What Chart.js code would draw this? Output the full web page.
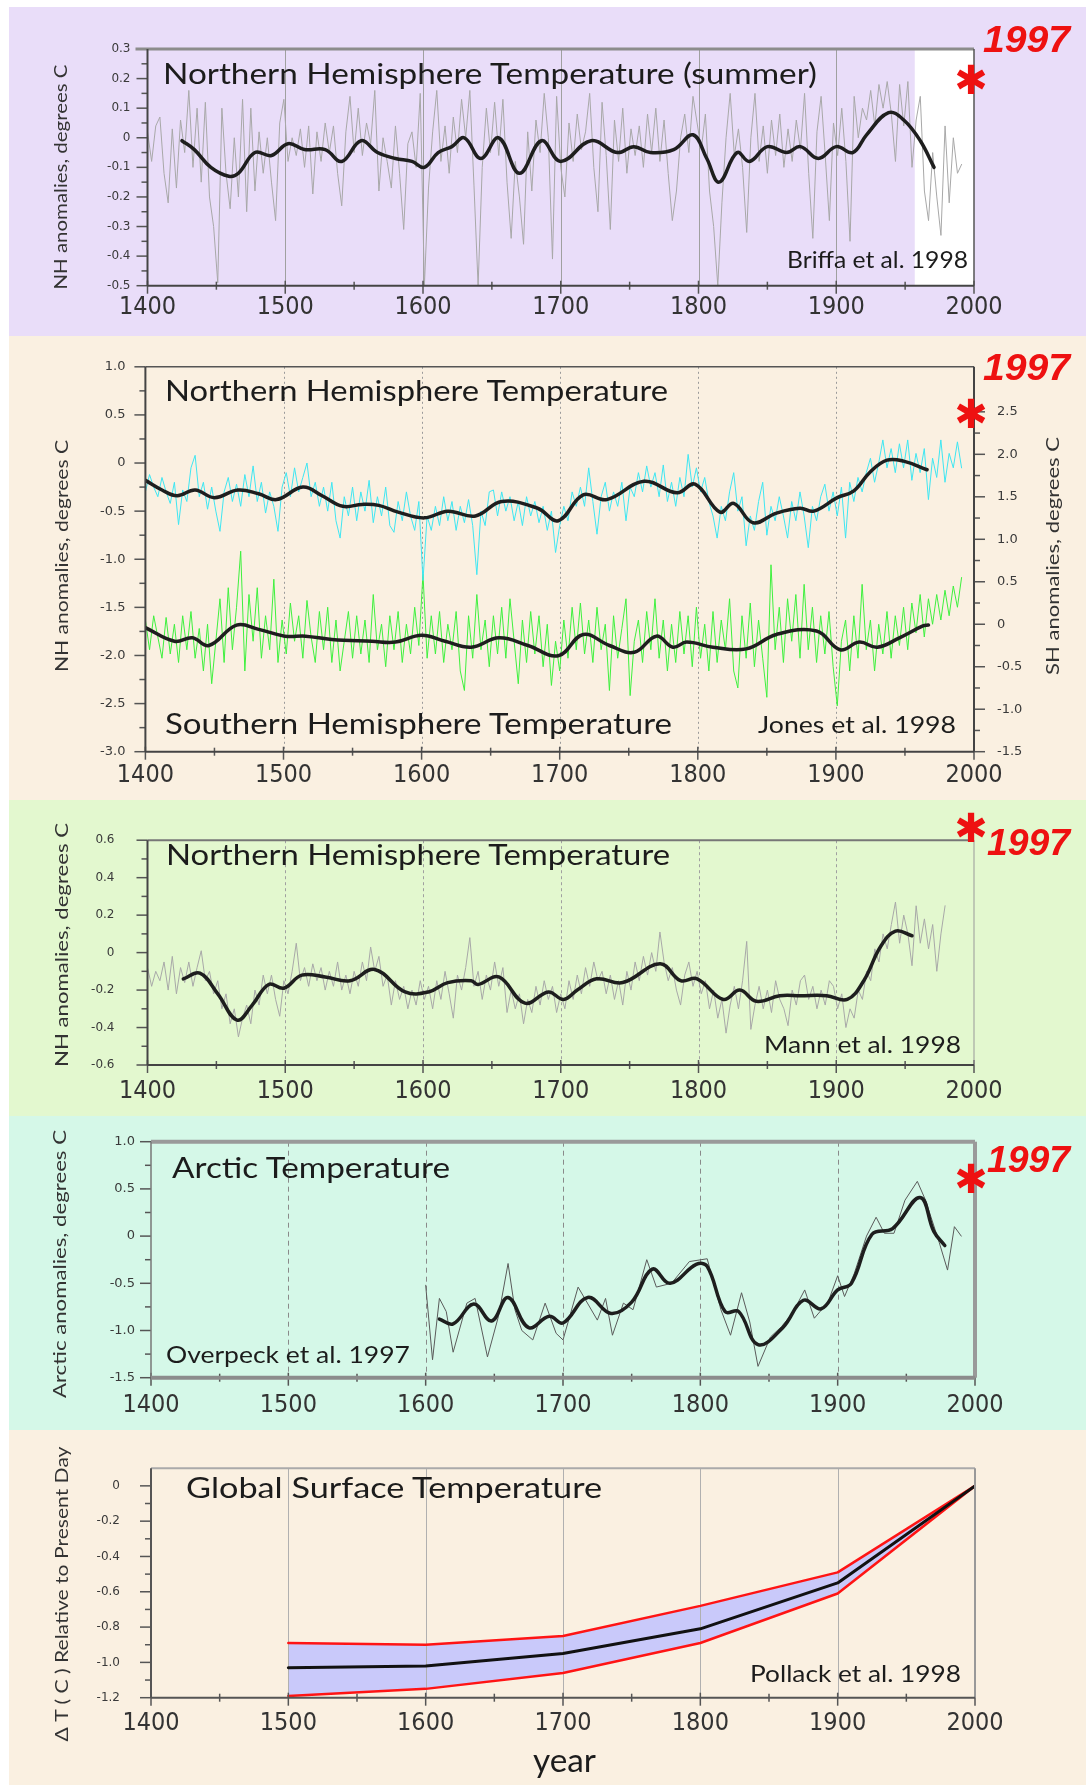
<!DOCTYPE html>
<html><head><meta charset="utf-8">
<script src="https://cdn.jsdelivr.net/npm/chart.js@4.4.1/dist/chart.umd.min.js"></script>
<style>
html,body{margin:0;padding:0;background:#fff;}
#page{position:relative;width:1086px;height:1785px;overflow:hidden;background:#fff;}
.panel{position:absolute;left:9px;width:1077px;}
.panel canvas{position:absolute;left:0;top:0;}
#ov{position:absolute;left:0;top:0;pointer-events:none;}
</style></head><body>
<div id="page">
 <div class="panel" style="top:7px;height:329px;background:#e9ddf9"><canvas id="c1" width="1077" height="329"></canvas></div>
 <div class="panel" style="top:336px;height:464px;background:#faf0e1"><canvas id="c2" width="1077" height="464"></canvas></div>
 <div class="panel" style="top:800px;height:316px;background:#e3f8cf"><canvas id="c3" width="1077" height="316"></canvas></div>
 <div class="panel" style="top:1116px;height:314px;background:#d5f8e8"><canvas id="c4" width="1077" height="314"></canvas></div>
 <div class="panel" style="top:1430px;height:355px;background:#faf0e1"><canvas id="c5" width="1077" height="355"></canvas></div>
 <svg id="ov" width="1086" height="1785" xmlns="http://www.w3.org/2000/svg">
  <g font-family="Lato, 'Open Sans', sans-serif" fill="#1c1c1c">
   <text x="163" y="84" font-size="29" textLength="654" lengthAdjust="spacingAndGlyphs">Northern Hemisphere Temperature (summer)</text>
   <text x="165" y="401" font-size="29" textLength="503" lengthAdjust="spacingAndGlyphs">Northern Hemisphere Temperature</text>
   <text x="165" y="734" font-size="29" textLength="507" lengthAdjust="spacingAndGlyphs">Southern Hemisphere Temperature</text>
   <text x="166" y="865" font-size="29" textLength="504" lengthAdjust="spacingAndGlyphs">Northern Hemisphere Temperature</text>
   <text x="172" y="1178" font-size="29" textLength="278" lengthAdjust="spacingAndGlyphs">Arctic Temperature</text>
   <text x="186" y="1498" font-size="29" textLength="416" lengthAdjust="spacingAndGlyphs">Global Surface Temperature</text>
   <text x="787" y="268" font-size="24" textLength="181" lengthAdjust="spacingAndGlyphs">Briffa et al. 1998</text>
   <text x="758" y="733" font-size="24" textLength="198" lengthAdjust="spacingAndGlyphs">Jones et al. 1998</text>
   <text x="764" y="1053" font-size="24" textLength="197" lengthAdjust="spacingAndGlyphs">Mann et al. 1998</text>
   <text x="166" y="1363" font-size="24" textLength="244" lengthAdjust="spacingAndGlyphs">Overpeck et al. 1997</text>
   <text x="750" y="1682" font-size="24" textLength="211" lengthAdjust="spacingAndGlyphs">Pollack et al. 1998</text>
   <text x="533" y="1772" font-size="33" textLength="63" lengthAdjust="spacingAndGlyphs">year</text>
  </g>
  <g font-family="Lato, 'Open Sans', sans-serif" fill="#333" font-size="18" text-anchor="middle" dominant-baseline="central">
   <text transform="translate(60,177) rotate(-90)" textLength="225" lengthAdjust="spacingAndGlyphs">NH anomalies, degrees C</text>
   <text transform="translate(61,556) rotate(-90)" textLength="232" lengthAdjust="spacingAndGlyphs">NH anomalies, degrees C</text>
   <text transform="translate(1052,556) rotate(-90)" textLength="238" lengthAdjust="spacingAndGlyphs">SH anomalies, degrees C</text>
   <text transform="translate(61,945) rotate(-90)" textLength="244" lengthAdjust="spacingAndGlyphs">NH anomalies, degrees C</text>
   <text transform="translate(59,1264) rotate(-90)" textLength="268" lengthAdjust="spacingAndGlyphs">Arctic anomalies, degrees C</text>
   <text transform="translate(61,1594) rotate(-90)" textLength="295" lengthAdjust="spacingAndGlyphs">Δ T ( C ) Relative to Present Day</text>
  </g>
  <g font-family="'Liberation Sans', Arial, sans-serif" font-weight="bold" font-style="italic" fill="#ee1111" font-size="37">
   <text x="983" y="52" textLength="87" lengthAdjust="spacingAndGlyphs">1997</text>
   <text x="983" y="380" textLength="87" lengthAdjust="spacingAndGlyphs">1997</text>
   <text x="987" y="855" textLength="83" lengthAdjust="spacingAndGlyphs">1997</text>
   <text x="987" y="1172" textLength="83" lengthAdjust="spacingAndGlyphs">1997</text>
  </g>
  <g font-family="'DejaVu Sans', sans-serif" fill="#ee1111" font-size="40" text-anchor="middle" dominant-baseline="central">
   <text x="971" y="80">✱</text>
   <text x="971" y="414">✱</text>
   <text x="971" y="828">✱</text>
   <text x="971" y="1179">✱</text>
  </g>
 </svg>
</div>
<script>
// ---------- axes / tick labels ----------
const X_MIN = 1400, X_MAX = 2000;
const xTickYears = [1400,1500,1600,1700,1800,1900,2000];
const gridYears = [1500,1600,1700,1800,1900];
const p1YTicks = [0.3,0.2,0.1,0,-0.1,-0.2,-0.3,-0.4,-0.5];
const p2YTicks = [1.0,0.5,0,-0.5,-1.0,-1.5,-2.0,-2.5,-3.0];
const p2Y2Ticks = [2.5,2.0,1.5,1.0,0.5,0,-0.5,-1.0,-1.5];
const p3YTicks = [0.6,0.4,0.2,0,-0.2,-0.4,-0.6];
const p4YTicks = [1.0,0.5,0,-0.5,-1.0,-1.5];
const p5YTicks = [0,-0.2,-0.4,-0.6,-0.8,-1.0,-1.2];

// ---------- Panel 1: Briffa et al. 1998 (NH summer) ----------
const briffaStart = 1400, briffaStep = 3;
const briffaAnnual = [
 0.02,-0.08,0.04,0.07,-0.12,-0.22,0.03,-0.17,0.06,-0.05,
 0.16,-0.10,0.10,-0.15,0.12,-0.20,-0.30,-0.49,0.10,-0.12,
 -0.24,0.00,-0.20,0.13,-0.25,0.10,-0.18,0.02,-0.12,0.00,
 -0.15,-0.28,0.05,0.13,-0.08,0.00,-0.06,0.03,-0.10,0.04,
 -0.19,0.02,-0.08,0.05,-0.05,0.04,-0.12,-0.23,0.02,0.14,
 -0.05,0.10,-0.06,0.05,-0.02,0.16,-0.18,0.00,-0.08,-0.17,
 0.04,-0.12,-0.31,-0.02,0.02,-0.10,0.15,-0.50,-0.17,0.02,
 0.16,-0.08,0.04,-0.12,0.07,-0.05,0.13,0.00,0.16,-0.16,
 -0.50,-0.10,0.10,-0.05,0.12,-0.06,0.13,-0.15,-0.34,-0.08,
 -0.20,-0.36,0.02,-0.18,0.06,-0.05,0.15,0.00,-0.41,0.14,
 -0.10,-0.20,0.05,-0.08,0.08,-0.04,0.02,0.15,-0.10,-0.25,
 0.12,-0.06,-0.31,0.06,-0.08,0.10,-0.12,0.03,-0.06,0.04,
 -0.10,0.08,-0.05,0.10,-0.08,0.06,-0.12,-0.28,-0.18,0.00,
 0.08,-0.05,0.14,0.05,-0.04,0.08,-0.18,-0.30,-0.50,-0.22,
 0.00,0.15,-0.06,0.03,-0.10,-0.32,0.00,0.15,-0.08,0.04,
 -0.12,0.06,-0.06,0.08,-0.10,0.03,-0.08,0.06,-0.04,0.15,
 -0.12,-0.34,0.02,0.14,-0.06,-0.28,0.05,-0.06,0.10,-0.08,
 -0.35,0.14,0.00,0.10,0.06,0.16,0.04,0.18,0.10,0.19,
 0.08,-0.08,0.18,0.04,0.19,-0.10,0.06,0.14,-0.18,-0.28,
 -0.05,-0.20,-0.33,0.04,-0.22,0.00,-0.12,-0.09];
const briffaSmoothYears = [1425,1434,1446,1459,1466,1478,1490,1502,1514,1529,1541,1555,1567,1580,1592,1601,1611,1621,1630,1642,1655,1670,1686,1700,1722,1741,1753,1765,1782,1796,1806,1815,1828,1837,1850,1864,1874,1887,1900,1912,1922,1938,1949,1961,1971];
const briffaSmooth = [-0.01,-0.04,-0.10,-0.13,-0.12,-0.05,-0.06,-0.02,-0.04,-0.04,-0.08,-0.01,-0.05,-0.07,-0.08,-0.10,-0.05,-0.03,0.0,-0.07,0.0,-0.12,-0.01,-0.08,-0.01,-0.05,-0.03,-0.05,-0.04,0.01,-0.07,-0.15,-0.05,-0.08,-0.03,-0.05,-0.03,-0.07,-0.03,-0.05,0.01,0.085,0.06,-0.01,-0.10];
const briffaWhiteFrom = 1957;

// ---------- Panel 2: Jones et al. 1998 (NH left axis, SH right axis) ----------
const jonesStart = 1400, jonesStep = 3;
const jonesNH = [
 -0.30,-0.12,-0.25,-0.35,-0.15,-0.30,-0.42,-0.20,-0.64,-0.28,
 -0.40,-0.05,0.08,-0.35,-0.20,-0.48,-0.25,-0.50,-0.71,-0.30,
 -0.15,-0.40,-0.22,-0.45,-0.12,-0.35,-0.03,-0.40,-0.20,-0.52,
 -0.30,-0.45,-0.71,-0.25,-0.10,-0.35,-0.05,-0.30,-0.15,0.00,
 -0.35,-0.20,-0.45,-0.25,-0.50,-0.20,-0.60,-0.78,-0.35,-0.55,
 -0.25,-0.60,-0.30,-0.50,-0.18,-0.62,-0.35,-0.55,-0.25,-0.65,
 -0.72,-0.40,-0.60,-0.30,-0.55,-0.70,-0.40,-1.22,-0.55,-0.70,
 -0.45,-0.65,-0.35,-0.60,-0.40,-0.70,-0.45,-0.62,-0.38,-0.65,
 -1.16,-0.50,-0.65,-0.30,-0.28,-0.55,-0.30,-0.50,-0.35,-0.60,
 -0.40,-0.65,-0.35,-0.55,-0.40,-0.62,-0.45,-0.70,-0.50,-0.93,
 -0.65,-0.45,-0.60,-0.30,-0.45,-0.25,-0.45,-0.05,-0.40,-0.74,
 -0.35,-0.20,-0.50,-0.30,-0.45,-0.20,-0.60,-0.25,-0.35,-0.10,
 -0.30,-0.03,-0.25,-0.10,-0.35,-0.02,-0.40,-0.20,-0.45,-0.15,
 -0.35,0.09,-0.25,-0.05,-0.30,-0.15,-0.40,-0.55,-0.78,-0.45,
 -0.60,-0.30,-0.10,-0.50,-0.35,-0.86,-0.55,-0.70,-0.40,-0.20,
 -0.75,-0.45,-0.60,-0.35,-0.55,-0.78,-0.40,-0.60,-0.30,-0.55,
 -0.88,-0.45,-0.60,-0.35,-0.22,-0.50,-0.30,-0.55,-0.25,-0.78,
 -0.20,-0.40,-0.15,-0.30,-0.10,0.05,-0.20,0.00,0.24,-0.05,
 0.15,-0.10,0.20,-0.05,0.24,-0.18,0.10,-0.10,0.15,-0.38,
 0.05,-0.15,0.24,-0.20,0.10,-0.05,0.22,-0.05];
const jonesSH = [
 0.05,-0.30,0.10,-0.15,-0.40,0.08,-0.35,0.00,-0.45,0.10,
 -0.30,0.15,-0.40,-0.05,-0.55,0.00,-0.70,-0.20,0.30,-0.45,
 0.43,-0.30,0.20,0.86,-0.55,0.35,-0.20,0.43,-0.40,0.10,
 -0.30,0.53,-0.45,0.05,-0.35,0.25,-0.20,0.10,-0.40,0.28,
 -0.15,-0.45,0.15,-0.30,0.20,-0.45,0.05,-0.55,-0.20,0.15,
 -0.40,0.10,-0.35,0.05,-0.45,0.35,-0.30,0.00,-0.50,0.10,
 -0.30,0.15,-0.45,0.00,-0.35,0.20,-0.25,0.59,-0.40,0.10,
 -0.35,0.15,-0.45,0.00,-0.30,0.15,-0.55,-0.78,0.10,-0.40,
 0.35,-0.30,0.05,-0.50,0.10,-0.35,0.20,-0.40,0.30,-0.20,
 -0.70,0.05,-0.45,0.15,-0.35,0.10,-0.50,0.00,-0.72,-0.20,
 -0.55,0.05,-0.40,0.20,-0.30,0.25,-0.35,0.05,-0.45,0.20,
 -0.30,0.00,-0.78,0.10,-0.40,-0.05,0.30,-0.84,-0.20,0.05,
 -0.45,0.15,-0.30,0.30,-0.40,0.05,-0.55,0.00,-0.45,0.15,
 -0.35,0.10,-0.50,0.20,-0.40,0.00,-0.55,0.15,-0.45,0.05,
 -0.30,0.30,-0.55,-0.75,0.10,-0.40,0.25,-0.50,0.05,-0.40,
 -0.86,0.70,-0.30,0.20,-0.45,0.30,-0.20,0.35,-0.40,0.47,
 -0.30,0.20,-0.45,0.10,-0.35,0.15,-0.50,-0.96,-0.20,0.05,
 -0.55,0.10,-0.40,0.47,-0.30,0.05,-0.55,0.00,-0.35,0.15,
 -0.40,0.10,-0.25,0.20,-0.30,0.25,-0.10,0.35,-0.15,0.30,
 0.00,0.35,0.05,0.40,0.10,0.45,0.20,0.55];
const jonesNHSmoothYears = [1400,1412,1423,1436,1450,1467,1482,1495,1514,1528,1543,1557,1569,1583,1602,1619,1639,1658,1684,1699,1717,1734,1761,1785,1798,1816,1826,1840,1857,1874,1884,1901,1913,1925,1937,1949,1966];
const jonesNHSmooth = [-0.18,-0.28,-0.34,-0.28,-0.36,-0.28,-0.32,-0.38,-0.25,-0.34,-0.45,-0.43,-0.44,-0.51,-0.57,-0.50,-0.55,-0.40,-0.47,-0.60,-0.33,-0.38,-0.19,-0.31,-0.22,-0.51,-0.42,-0.62,-0.52,-0.47,-0.50,-0.36,-0.29,-0.09,0.03,0.02,-0.07];
const jonesSHSmoothYears = [1400,1421,1434,1446,1466,1482,1501,1516,1535,1564,1581,1600,1617,1636,1656,1677,1699,1717,1736,1754,1770,1782,1792,1811,1835,1857,1886,1903,1917,1930,1946,1963,1967];
const jonesSHSmooth = [-0.04,-0.20,-0.16,-0.25,-0.01,-0.06,-0.14,-0.14,-0.18,-0.20,-0.21,-0.13,-0.20,-0.27,-0.16,-0.25,-0.37,-0.12,-0.25,-0.33,-0.14,-0.27,-0.21,-0.27,-0.29,-0.12,-0.08,-0.30,-0.21,-0.27,-0.16,-0.02,-0.01];

// ---------- Panel 3: Mann et al. 1998 ----------
const mannStart = 1400, mannStep = 3;
const mannAnnual = [
 -0.08,-0.18,-0.10,-0.15,-0.05,-0.20,-0.02,-0.22,-0.08,-0.16,
 -0.05,-0.18,-0.08,0.01,-0.15,-0.10,-0.22,-0.15,-0.30,-0.22,
 -0.38,-0.30,-0.45,-0.35,-0.28,-0.38,-0.20,-0.28,-0.12,-0.22,
 -0.12,-0.25,-0.34,-0.15,-0.22,-0.10,0.05,-0.15,-0.08,-0.18,
 -0.06,-0.15,-0.08,-0.20,-0.10,-0.18,-0.05,-0.20,-0.12,-0.22,
 -0.10,-0.18,-0.05,-0.15,0.03,-0.10,-0.02,-0.18,-0.12,-0.28,
 -0.15,-0.25,-0.18,-0.30,-0.20,-0.28,-0.15,-0.25,-0.18,-0.30,
 -0.15,-0.25,-0.10,-0.22,-0.35,-0.12,-0.20,-0.08,0.08,-0.18,
 -0.10,-0.25,-0.12,-0.20,-0.05,-0.18,-0.08,-0.32,-0.20,-0.30,
 -0.22,-0.38,-0.25,-0.32,-0.18,-0.28,-0.15,-0.25,-0.18,-0.32,
 -0.22,-0.30,-0.15,-0.25,-0.12,-0.22,-0.08,-0.18,-0.05,-0.15,
 -0.10,-0.22,-0.12,-0.25,-0.15,-0.28,-0.10,-0.20,-0.05,-0.15,
 -0.02,-0.12,0.00,-0.10,0.11,-0.05,-0.15,-0.08,-0.20,-0.28,
 -0.12,-0.05,-0.18,-0.10,-0.22,-0.15,-0.30,-0.20,-0.35,-0.25,
 -0.43,-0.28,-0.18,-0.30,-0.15,0.06,-0.41,-0.28,-0.18,-0.30,
 -0.20,-0.32,-0.15,-0.25,-0.30,-0.39,-0.20,-0.28,-0.15,-0.12,
 -0.25,-0.18,-0.30,-0.20,-0.28,-0.15,-0.18,-0.30,-0.22,-0.40,
 -0.30,-0.35,-0.20,-0.25,-0.10,-0.15,0.02,-0.05,0.10,0.02,
 0.15,0.27,0.05,0.20,0.10,-0.07,0.25,0.05,0.18,0.02,
 0.15,-0.10,0.10,0.25];
const mannSmoothYears = [1426,1438,1451,1465,1476,1488,1499,1512,1529,1547,1565,1587,1604,1618,1635,1640,1655,1674,1691,1702,1712,1726,1745,1772,1787,1799,1818,1830,1842,1859,1874,1893,1908,1920,1932,1943,1955];
const mannSmooth = [-0.14,-0.11,-0.22,-0.36,-0.28,-0.17,-0.19,-0.12,-0.13,-0.15,-0.09,-0.21,-0.21,-0.16,-0.15,-0.17,-0.13,-0.27,-0.21,-0.25,-0.20,-0.14,-0.16,-0.06,-0.15,-0.14,-0.25,-0.20,-0.26,-0.23,-0.23,-0.23,-0.25,-0.15,0.03,0.115,0.09];

// ---------- Panel 4: Overpeck et al. 1997 (Arctic) ----------
const overpeckYears = [1600,1605,1610,1615,1620,1630,1636,1645,1653,1660,1665,1670,1678,1687,1695,1700,1711,1725,1731,1736,1744,1751,1761,1768,1779,1792,1805,1815,1822,1830,1836,1842,1851,1859,1867,1876,1883,1893,1900,1905,1912,1921,1928,1934,1941,1949,1958,1964,1974,1980,1985,1990];
const overpeckValues = [-0.52,-1.31,-0.66,-0.80,-1.23,-0.71,-0.66,-1.28,-0.85,-0.29,-0.78,-1.00,-1.10,-0.71,-1.03,-1.10,-0.54,-0.89,-0.66,-1.05,-0.71,-0.78,-0.25,-0.54,-0.50,-0.27,-0.24,-0.78,-1.05,-0.60,-0.91,-1.38,-1.07,-0.96,-0.82,-0.57,-0.87,-0.70,-0.42,-0.64,-0.40,0.00,0.20,0.03,0.03,0.38,0.58,0.38,-0.07,-0.36,0.10,0.00];
const overpeckSmoothYears = [1610,1620,1635,1648,1660,1675,1690,1700,1718,1735,1750,1765,1778,1797,1805,1818,1828,1842,1860,1875,1888,1900,1910,1925,1940,1960,1970,1978];
const overpeckSmooth = [-0.88,-0.93,-0.72,-0.90,-0.65,-0.97,-0.85,-0.92,-0.65,-0.82,-0.70,-0.35,-0.50,-0.30,-0.32,-0.80,-0.80,-1.15,-0.97,-0.68,-0.77,-0.57,-0.50,0.02,0.08,0.41,0.05,-0.10];

// ---------- Panel 5: Pollack et al. 1998 (boreholes) ----------
const pollackYears = [1500,1600,1700,1800,1900,2000];
const pollackMean  = [-1.03,-1.02,-0.95,-0.81,-0.55,0];
const pollackUpper = [-0.89,-0.90,-0.85,-0.68,-0.49,0];
const pollackLower = [-1.19,-1.15,-1.06,-0.89,-0.61,0];

// ---------- helpers ----------
const pairs = (years, vals) => vals.map((v, i) => ({x: years[i], y: v}));
const stepped = (start, step, vals) => vals.map((v, i) => ({x: start + i * step, y: v}));
function withMinors(m){
  const s = [...m].sort((a,b)=>a-b), out = [];
  for (let i = 0; i < s.length; i++){ out.push(s[i]); if (i < s.length-1) out.push((s[i]+s[i+1])/2); }
  return out;
}
const fmt = v => v === 0 ? '0' : v.toFixed(1);
function yScale(majors, min, max, width, pad, size, position){
  const list = withMinors(majors);
  return {
    type:'linear', position: position || 'left', min, max,
    afterBuildTicks: s => { s.ticks = list.map(v => ({value:v})); },
    afterFit: s => { s.width = width; },
    grid:{display:false, drawTicks:false}, border:{display:false},
    ticks:{autoSkip:false, padding:pad, color:'#3a3a3a',
      font:{family:"'DejaVu Sans', sans-serif", size:size},
      callback: v => { const m = majors.find(x => Math.abs(x - v) < 1e-6); return m === undefined ? '' : fmt(m); }}
  };
}
const XFONT = "'Liberation Sans Narrow','DejaVu Sans Condensed',Lato,sans-serif";
function xScale(height, pad){
  const list = withMinors(xTickYears);
  return {
    type:'linear', min:X_MIN, max:X_MAX,
    afterBuildTicks: s => { s.ticks = list.map(v => ({value:v})); },
    afterFit: s => { s.height = height; },
    grid:{display:false, drawTicks:false}, border:{display:false},
    ticks:{autoSkip:false, maxRotation:0, padding:pad, color:'#333',
      font:{family:XFONT, size:25},
      callback: v => xTickYears.includes(v) ? String(v) : ''}
  };
}

const decor = {
  id:'decor',
  beforeDatasetsDraw(chart, _a, o){
    const {ctx, chartArea:a} = chart, xs = chart.scales.x;
    ctx.save();
    if (o.whiteFrom != null){
      const px = xs.getPixelForValue(o.whiteFrom);
      ctx.fillStyle = '#ffffff'; ctx.fillRect(px, a.top, a.right - px, a.bottom - a.top);
    }
    if (o.grid){
      ctx.strokeStyle = o.grid.color; ctx.lineWidth = o.grid.width; ctx.setLineDash(o.grid.dash || []);
      gridYears.forEach(v => { const px = Math.round(xs.getPixelForValue(v)) + 0.5;
        ctx.beginPath(); ctx.moveTo(px, a.top); ctx.lineTo(px, a.bottom); ctx.stroke(); });
    }
    ctx.restore();
  },
  afterDatasetsDraw(chart, _a, o){
    const {ctx, chartArea:a} = chart;
    ctx.save(); ctx.setLineDash([]);
    const seg = (x1,y1,x2,y2,c,w) => { ctx.strokeStyle=c; ctx.lineWidth=w; ctx.beginPath(); ctx.moveTo(x1,y1); ctx.lineTo(x2,y2); ctx.stroke(); };
    const tc = o.tickColor || '#555';
    const xs = chart.scales.x;
    xs.ticks.forEach(t => { const px = xs.getPixelForValue(t.value), maj = t.label !== '';
      seg(px, a.bottom - (maj ? 5 : 4), px, a.bottom + (maj ? 8 : 4), tc, 1.5); });
    ['y','y2'].forEach(id => { const s = chart.scales[id]; if (!s) return;
      const left = s.position === 'left', ax = left ? a.left : a.right;
      s.ticks.forEach(t => { const py = s.getPixelForValue(t.value), len = t.label !== '' ? 11 : 6;
        seg(ax, py, ax + (left ? -len : len), py, tc, 1.5); }); });
    const f = o.frame;
    if (f.top) seg(a.left - (f.top.ext || 0), a.top, a.right, a.top, f.top.c, f.top.w);
    if (f.right) seg(a.right, a.top, a.right, a.bottom, f.right.c, f.right.w);
    if (f.left) seg(a.left, a.top, a.left, a.bottom, f.left.c, f.left.w);
    if (f.bottom) seg(a.left, a.bottom, a.right, a.bottom, f.bottom.c, f.bottom.w);
    ctx.restore();
  }
};

function make(id, cfg){
  return new Chart(document.getElementById(id), {
    type:'line',
    data:{datasets: cfg.datasets},
    options:{
      responsive:false, animation:false, devicePixelRatio:1, events:[],
      layout:{padding: cfg.padding},
      elements:{point:{radius:0}, line:{borderCapStyle:'round', borderJoinStyle:'round'}},
      plugins:{legend:{display:false}, tooltip:{enabled:false}, filler:{drawTime:'beforeDatasetsDraw'}, decor: cfg.decor},
      scales: cfg.scales
    },
    plugins:[decor]
  });
}
const smooth = (data, extra) => Object.assign({data, borderColor:'#1e1e1e', borderWidth:3.5, tension:0.4, fill:false}, extra || {});
const noisy = (data, color, extra) => Object.assign({data, borderColor:color, borderWidth:1, tension:0, fill:false}, extra || {});

// Panel 1
make('c1', {
  padding:{left:0, top:42, right:112, bottom:0},
  datasets:[
    smooth(pairs(briffaSmoothYears, briffaSmooth)),
    noisy(stepped(briffaStart, briffaStep, briffaAnnual), '#a8a8a8')
  ],
  scales:{ x: xScale(50.3, 6.4), y: yScale(p1YTicks, -0.5, 0.3, 138.5, 17, 12) },
  decor:{ whiteFrom: briffaWhiteFrom, grid:{color:'#a0a0a0', width:1},
    frame:{ top:{c:'#8c8c8c', w:3, ext:12}, right:{c:'#555', w:1.5}, left:{c:'#444', w:2}, bottom:{c:'#444', w:2} } }
});

// Panel 2
make('c2', {
  padding:{left:0, top:29, right:0, bottom:0},
  datasets:[
    smooth(pairs(jonesNHSmoothYears, jonesNHSmooth), {yAxisID:'y'}),
    smooth(pairs(jonesSHSmoothYears, jonesSHSmooth), {yAxisID:'y2'}),
    noisy(stepped(jonesStart, jonesStep, jonesNH), '#3ee6f2', {yAxisID:'y'}),
    noisy(stepped(jonesStart, jonesStep, jonesSH), '#3ef03e', {yAxisID:'y2'})
  ],
  scales:{ x: xScale(48.3, 9.1), y: yScale(p2YTicks, -3.0, 1.0, 136.4, 20, 13),
           y2: yScale(p2Y2Ticks, -1.5, 3.03, 112, 23, 13, 'right') },
  decor:{ grid:{color:'#9a9a9a', width:1, dash:[2,3]},
    frame:{ top:{c:'#555', w:1.5}, right:{c:'#444', w:2}, left:{c:'#444', w:2}, bottom:{c:'#444', w:2} } }
});

// Panel 3
make('c3', {
  padding:{left:0, top:29, right:112, bottom:0},
  datasets:[
    smooth(pairs(mannSmoothYears, mannSmooth)),
    noisy(stepped(mannStart, mannStep, mannAnnual), '#a8a8a8')
  ],
  scales:{ x: xScale(51, 11.8), y: yScale(p3YTicks, -0.6, 0.6, 138.5, 33, 12) },
  decor:{ grid:{color:'#a0a0a0', width:1, dash:[3,3]},
    frame:{ top:{c:'#777', w:2}, right:{c:'#999', w:1}, left:{c:'#444', w:2}, bottom:{c:'#444', w:2} } }
});

// Panel 4
make('c4', {
  padding:{left:0, top:25.7, right:111, bottom:0},
  datasets:[
    smooth(pairs(overpeckSmoothYears, overpeckSmooth)),
    noisy(pairs(overpeckYears, overpeckValues), '#5a5a5a')
  ],
  scales:{ x: xScale(52.3, 12.8), y: yScale(p4YTicks, -1.5, 1.0, 142, 16, 13) },
  decor:{ grid:{color:'#8a8a8a', width:1, dash:[5,4]},
    frame:{ top:{c:'#9a9a9a', w:4}, right:{c:'#9a9a9a', w:4}, left:{c:'#777', w:1.5}, bottom:{c:'#8c8c8c', w:4} } }
});

// Panel 5
make('c5', {
  padding:{left:0, top:27.3, right:111, bottom:0},
  datasets:[
    {data: pairs(pollackYears, pollackMean), borderColor:'#111', borderWidth:3, tension:0, fill:false},
    {data: pairs(pollackYears, pollackUpper), borderColor:'#ff1414', borderWidth:2.5, tension:0, fill:'+1', backgroundColor:'#c9c9fa'},
    {data: pairs(pollackYears, pollackLower), borderColor:'#ff1414', borderWidth:2.5, tension:0, fill:false}
  ],
  scales:{ x: xScale(87.3, 11.1), y: yScale(p5YTicks, -1.2, 0.1, 142, 31, 12) },
  decor:{ grid:{color:'#b0b0b0', width:1},
    frame:{ top:{c:'#aaa', w:2}, right:{c:'#999', w:2}, left:{c:'#555', w:2}, bottom:{c:'#555', w:2} } }
});
</script>
</body></html>
